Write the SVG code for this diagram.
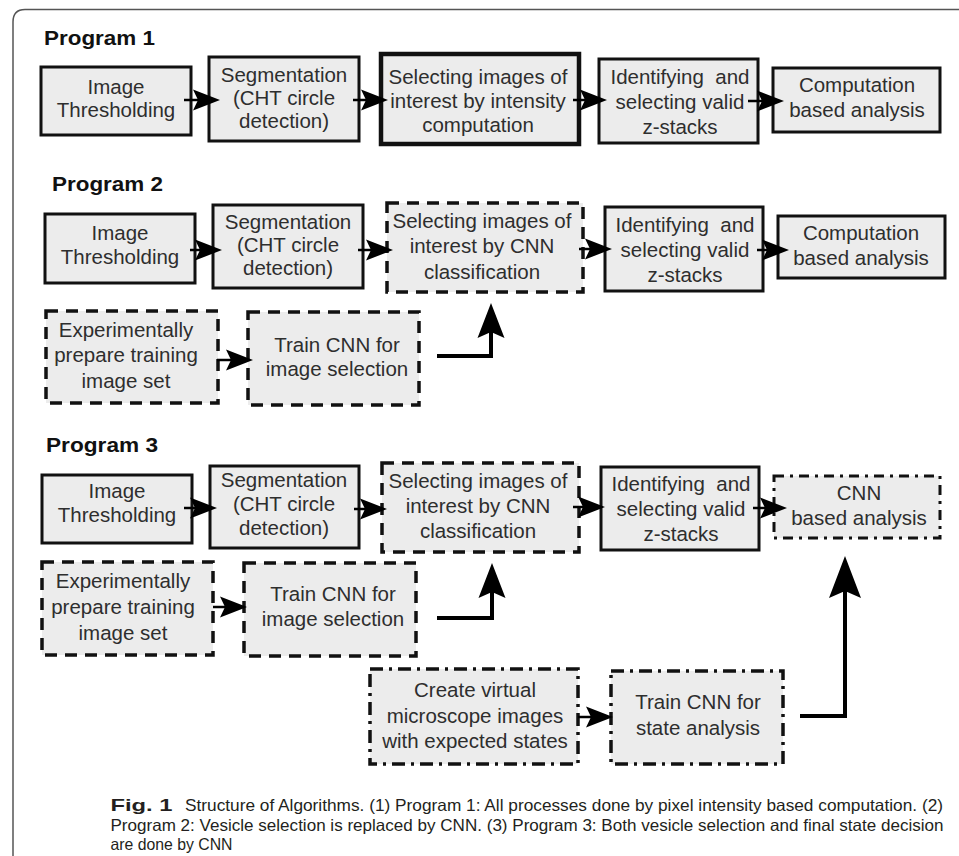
<svg xmlns="http://www.w3.org/2000/svg" width="959" height="856" viewBox="0 0 959 856">
<defs>
<style>
.box{fill:#ececec;stroke:#111;stroke-width:3}
.thick{stroke-width:4.5}
.dash{stroke-dasharray:12 8;stroke-width:3.5}
.dashdot{stroke-dasharray:13 6 3 6;stroke-width:3.5}
.t{font-family:"Liberation Sans",Arial,sans-serif;font-size:20.5px;fill:#2e2e2e;text-anchor:middle}
.title{font-family:"Liberation Sans",Arial,sans-serif;font-weight:bold;font-size:21px;fill:#111}
.cap{font-family:"Liberation Sans Narrow","Liberation Sans",Arial,sans-serif;font-size:16.5px;fill:#231f20}
.a{fill:none;stroke:#000;stroke-width:2.5;marker-end:url(#ah)}
.big{fill:none;stroke:#000;stroke-width:4;stroke-linejoin:miter}
</style>
<marker id="ah" viewBox="-30 -13 32 26" markerWidth="32" markerHeight="26" refX="-10" refY="0" orient="auto" markerUnits="userSpaceOnUse"><path d="M0,0 L-27,-10.5 L-22,0 L-27,10.5 Z" fill="#000"/></marker>
<marker id="ahb" viewBox="-38 -16 40 32" markerWidth="40" markerHeight="32" refX="-12" refY="0" orient="auto" markerUnits="userSpaceOnUse"><path d="M0,0 L-35,-13.5 L-29,0 L-35,13.5 Z" fill="#000"/></marker>
<marker id="ahc" viewBox="-45 -18 47 36" markerWidth="47" markerHeight="36" refX="-14" refY="0" orient="auto" markerUnits="userSpaceOnUse"><path d="M0,0 L-42,-16 L-35,0 L-42,16 Z" fill="#000"/></marker>
</defs>
<rect width="959" height="856" fill="#fff"/>
<path id="frame" d="M13,856 V22 Q13,9.5 25,9.5 H959" fill="none" stroke="#555" stroke-width="1.5"/>

<!-- Program 1 -->
<g id="p1-title"><text class="title" x="44" y="45" textLength="111" lengthAdjust="spacingAndGlyphs">Program 1</text></g>
<g id="p1-threshold"><rect class="box" x="41" y="67" width="150" height="68"/>
<text class="t"><tspan x="116" y="94">Image</tspan><tspan x="116" y="117">Thresholding</tspan></text></g>
<g id="p1-segment"><rect class="box" x="209" y="57" width="150" height="84"/>
<text class="t"><tspan x="284" y="82">Segmentation</tspan><tspan x="284" y="105">(CHT circle</tspan><tspan x="284" y="128">detection)</tspan></text></g>
<g id="p1-select"><rect class="box thick" x="381" y="54" width="198" height="90"/>
<text class="t"><tspan x="478" y="84">Selecting images of</tspan><tspan x="478" y="108">interest by intensity</tspan><tspan x="478" y="132">computation</tspan></text></g>
<g id="p1-zstack"><rect class="box" x="599" y="59" width="159" height="84"/>
<text class="t"><tspan x="680" y="84">Identifying&#160; and</tspan><tspan x="680" y="109">selecting valid</tspan><tspan x="680" y="134">z-stacks</tspan></text></g>
<g id="p1-analysis"><rect class="box" x="773" y="68" width="167" height="64"/>
<text class="t"><tspan x="857" y="92">Computation</tspan><tspan x="857" y="117">based analysis</tspan></text></g>

<!-- Program 2 -->
<g id="p2-title"><text class="title" x="52" y="191" textLength="111" lengthAdjust="spacingAndGlyphs">Program 2</text></g>
<g id="p2-threshold"><rect class="box" x="45" y="214" width="150" height="69"/>
<text class="t"><tspan x="120" y="240">Image</tspan><tspan x="120" y="264">Thresholding</tspan></text></g>
<g id="p2-segment"><rect class="box" x="213" y="205" width="150" height="83"/>
<text class="t"><tspan x="288" y="229">Segmentation</tspan><tspan x="288" y="252">(CHT circle</tspan><tspan x="288" y="275">detection)</tspan></text></g>
<g id="p2-select"><rect class="box dash" x="387" y="203" width="196" height="89"/>
<text class="t"><tspan x="482" y="228">Selecting images of</tspan><tspan x="482" y="253">interest by CNN</tspan><tspan x="482" y="279">classification</tspan></text></g>
<g id="p2-zstack"><rect class="box" x="605" y="207" width="158" height="84"/>
<text class="t"><tspan x="685" y="232">Identifying&#160; and</tspan><tspan x="685" y="257">selecting valid</tspan><tspan x="685" y="282">z-stacks</tspan></text></g>
<g id="p2-analysis"><rect class="box" x="778" y="216" width="167" height="62"/>
<text class="t"><tspan x="861" y="240">Computation</tspan><tspan x="861" y="265">based analysis</tspan></text></g>
<g id="p2-prepare"><rect class="box dash" x="46" y="311" width="172" height="92"/>
<text class="t"><tspan x="126" y="337">Experimentally</tspan><tspan x="126" y="362">prepare training</tspan><tspan x="126" y="388">image set</tspan></text></g>
<g id="p2-train"><rect class="box dash" x="248" y="312" width="171" height="93"/>
<text class="t"><tspan x="337" y="352">Train CNN for</tspan><tspan x="337" y="376">image selection</tspan></text></g>

<!-- Program 3 -->
<g id="p3-title"><text class="title" x="46" y="452" textLength="112" lengthAdjust="spacingAndGlyphs">Program 3</text></g>
<g id="p3-threshold"><rect class="box" x="42" y="475" width="150" height="68"/>
<text class="t"><tspan x="117" y="498">Image</tspan><tspan x="117" y="522">Thresholding</tspan></text></g>
<g id="p3-segment"><rect class="box" x="210" y="466" width="149" height="82"/>
<text class="t"><tspan x="284" y="487">Segmentation</tspan><tspan x="284" y="511">(CHT circle</tspan><tspan x="284" y="535">detection)</tspan></text></g>
<g id="p3-select"><rect class="box dash" x="382" y="463" width="197" height="89"/>
<text class="t"><tspan x="478" y="488">Selecting images of</tspan><tspan x="478" y="513">interest by CNN</tspan><tspan x="478" y="538">classification</tspan></text></g>
<g id="p3-zstack"><rect class="box" x="601" y="467" width="158" height="83"/>
<text class="t"><tspan x="681" y="491">Identifying&#160; and</tspan><tspan x="681" y="516">selecting valid</tspan><tspan x="681" y="541">z-stacks</tspan></text></g>
<g id="p3-analysis"><rect class="box dashdot" style="stroke-dasharray:10 6 3 6;stroke-width:3" x="774" y="476" width="166" height="62"/>
<text class="t"><tspan x="859" y="500">CNN</tspan><tspan x="859" y="525">based analysis</tspan></text></g>
<g id="p3-prepare"><rect class="box dash" x="42" y="562" width="171" height="93"/>
<text class="t"><tspan x="123" y="588">Experimentally</tspan><tspan x="123" y="614">prepare training</tspan><tspan x="123" y="640">image set</tspan></text></g>
<g id="p3-train"><rect class="box dash" x="244" y="563" width="172" height="93"/>
<text class="t"><tspan x="333" y="601">Train CNN for</tspan><tspan x="333" y="626">image selection</tspan></text></g>
<g id="p3-virtual"><rect class="box dashdot" x="370" y="669" width="208" height="95"/>
<text class="t"><tspan x="475" y="697">Create virtual</tspan><tspan x="475" y="723">microscope images</tspan><tspan x="475" y="748">with expected states</tspan></text></g>
<g id="p3-trainstate"><rect class="box dashdot" x="611" y="671" width="172" height="93"/>
<text class="t"><tspan x="698" y="709">Train CNN for</tspan><tspan x="698" y="735">state analysis</tspan></text></g>

<g id="connectors">
<path class="a" d="M184,100 H210"/>
<path class="a" d="M353,100 H378"/>
<path class="a" d="M573,100 H597"/>
<path class="a" d="M748,101 H774"/>
<path class="a" d="M190,250 H212"/>
<path class="a" d="M358,250 H383"/>
<path class="a" d="M579,249 H602"/>
<path class="a" d="M757,250 H779"/>
<path class="a" d="M217,360 H243"/>
<path class="a" d="M184,508 H207"/>
<path class="a" d="M354,509 H377"/>
<path class="a" d="M573,507 H595"/>
<path class="a" d="M753,508 H777"/>
<path class="a" d="M213,607 H237"/>
<path class="a" d="M578,717 H603"/>
<path class="big" d="M437,356 H491 V315" marker-end="url(#ahb)"/>
<path class="big" d="M437,618 H492 V575" marker-end="url(#ahb)"/>
<path class="big" d="M800,716 H845 V570" marker-end="url(#ahc)"/>
</g>

<g id="caption">
<text class="cap" x="110.5" y="811" font-weight="bold" textLength="62" lengthAdjust="spacingAndGlyphs">Fig. 1</text>
<text class="cap" x="185" y="811" textLength="758" lengthAdjust="spacingAndGlyphs">Structure of Algorithms. (1) Program 1: All processes done by pixel intensity based computation. (2)</text>
<text class="cap" x="110.5" y="831" textLength="833" lengthAdjust="spacingAndGlyphs">Program 2: Vesicle selection is replaced by CNN. (3) Program 3: Both vesicle selection and final state decision</text>
<text class="cap" x="110.5" y="850" textLength="122" lengthAdjust="spacingAndGlyphs">are done by CNN</text>
</g>
</svg>
